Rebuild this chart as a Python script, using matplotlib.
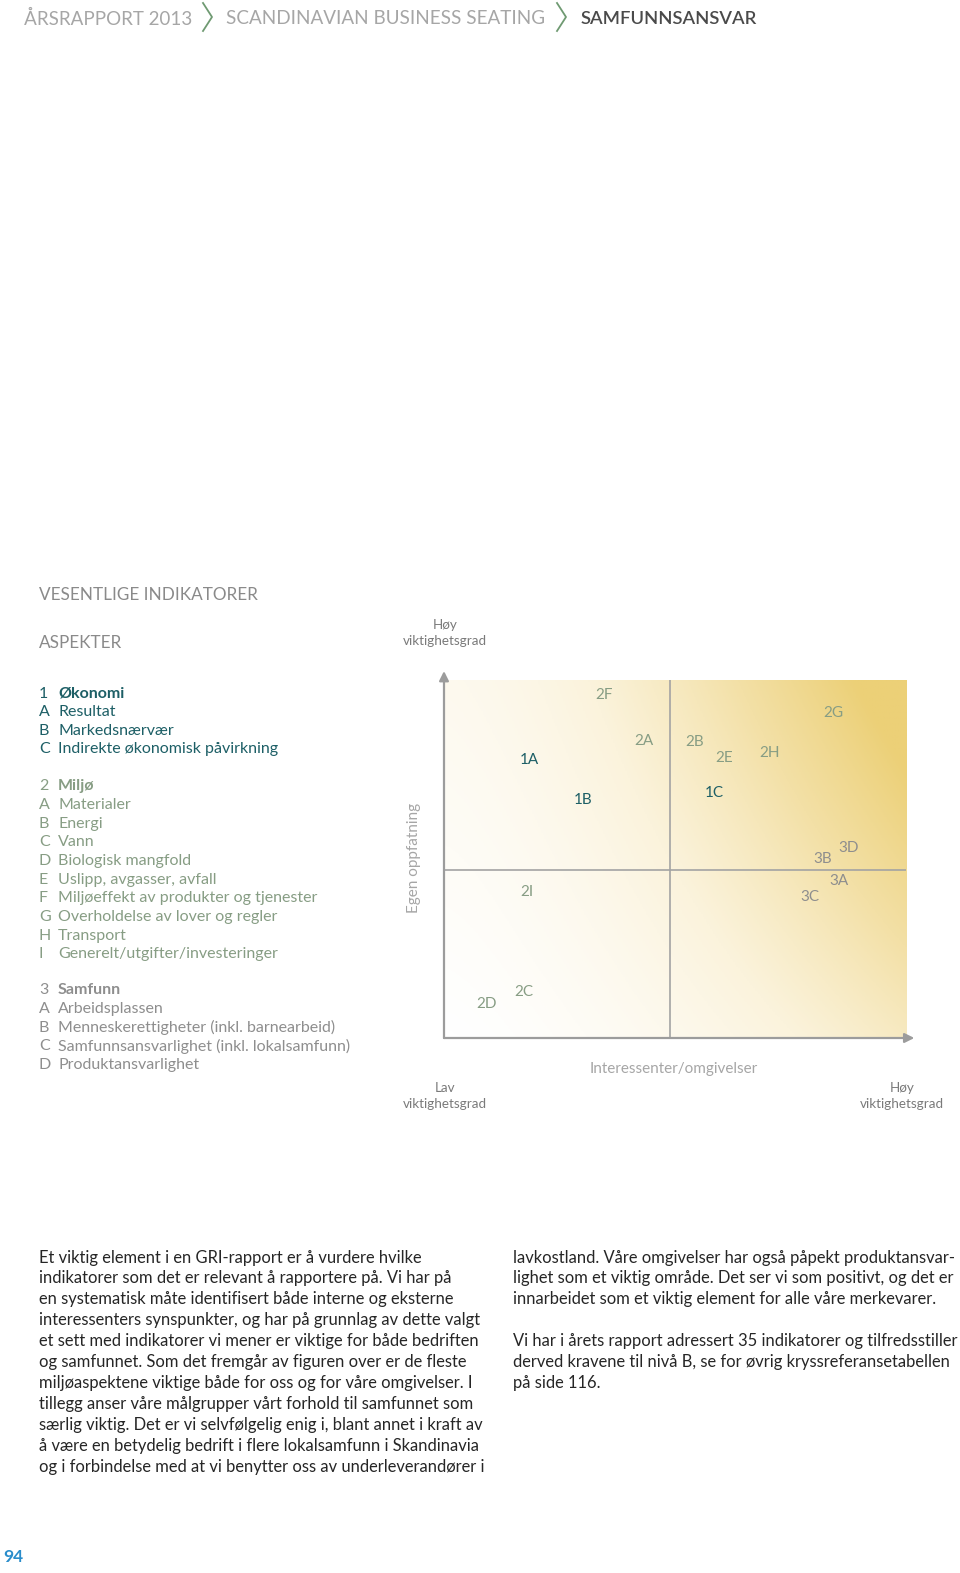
import matplotlib.pyplot as plt
from matplotlib.colors import LinearSegmentedColormap
import numpy as np

W, H = 960, 1573
plt.rcParams['font.family'] = ['Lato', 'DejaVu Sans']

# indikatorer i matrisen (x = interessenter/omgivelser, y = egen oppfatning, skala 0-10)
labels = ['1A', '1B', '1C', '2A', '2B', '2C', '2D', '2E', '2F', '2G', '2H', '2I', '3A', '3B', '3C', '3D']
x_int = [1.85, 3.02, 5.85, 4.33, 5.43, 1.72, 0.93, 6.07, 3.46, 8.43, 7.04, 1.80, 8.54, 8.20, 7.91, 8.76]
y_egen = [7.82, 6.69, 6.89, 8.35, 8.32, 1.32, 0.98, 7.87, 9.61, 9.13, 8.01, 4.12, 4.43, 5.04, 3.98, 5.35]

# aspekter
grp_nr = ['1', '2', '3']
grp_navn = ['Økonomi', 'Miljø', 'Samfunn']
okonomi = ['Resultat', 'Markedsnærvær', 'Indirekte økonomisk påvirkning']
miljo = ['Materialer', 'Energi', 'Vann', 'Biologisk mangfold', 'Uslipp, avgasser, avfall',
         'Miljøeffekt av produkter og tjenester', 'Overholdelse av lover og regler',
         'Transport', 'Generelt/utgifter/investeringer']
samfunn = ['Arbeidsplassen', 'Menneskerettigheter (inkl. barnearbeid)',
           'Samfunnsansvarlighet (inkl. lokalsamfunn)', 'Produktansvarlighet']
farger = ['#1d5f66', '#879d84', '#8e8e8e']

tekst_v = ['Et viktig element i en GRI-rapport er å vurdere hvilke',
           'indikatorer som det er relevant å rapportere på. Vi har på',
           'en systematisk måte identifisert både interne og eksterne',
           'interessenters synspunkter, og har på grunnlag av dette valgt',
           'et sett med indikatorer vi mener er viktige for både bedriften',
           'og samfunnet. Som det fremgår av figuren over er de fleste',
           'miljøaspektene viktige både for oss og for våre omgivelser. I',
           'tillegg anser våre målgrupper vårt forhold til samfunnet som',
           'særlig viktig. Det er vi selvfølgelig enig i, blant annet i kraft av',
           'å være en betydelig bedrift i flere lokalsamfunn i Skandinavia',
           'og i forbindelse med at vi benytter oss av underleverandører i']
tekst_h = ['lavkostland. Våre omgivelser har også påpekt produktansvar-',
           'lighet som et viktig område. Det ser vi som positivt, og det er',
           'innarbeidet som et viktig element for alle våre merkevarer.',
           '',
           'Vi har i årets rapport adressert 35 indikatorer og tilfredsstiller',
           'derved kravene til nivå B, se for øvrig kryssreferansetabellen',
           'på side 116.']


def fx(x):
    return x / W


def fy(y):
    return 1 - y / H


fig = plt.figure(figsize=(W / 100, H / 100), dpi=100)

# topptekst
fig.text(fx(24), fy(17), 'ÅRSRAPPORT 2013', fontsize=13.5, color='#a6a6a6', va='center_baseline')
fig.text(fx(226), fy(17), 'SCANDINAVIAN BUSINESS SEATING', fontsize=13.6, color='#a6a6a6',
         va='center_baseline')
fig.text(fx(581), fy(17), 'SAMFUNNSANSVAR', fontsize=13.2, color='#4a4a4a', va='center_baseline',
         fontweight='semibold')
for cx in [203, 557]:
    fig.add_artist(plt.Line2D([fx(cx), fx(cx + 9), fx(cx)], [fy(3), fy(17), fy(31)],
                              color='#6f9a72', lw=1.3))

fig.text(fx(39), fy(593), 'VESENTLIGE INDIKATORER', fontsize=12.3, color='#8a8a8a', va='center_baseline')
fig.text(fx(39), fy(642), 'ASPEKTER', fontsize=12.3, color='#8a8a8a', va='center_baseline')

# liste over aspekter
step = 18.65
starts = [692, 785, 989]
for nr, navn, items, start, c in zip(grp_nr, grp_navn, [okonomi, miljo, samfunn], starts, farger):
    fig.text(fx(39), fy(start), nr, fontsize=11.5, color=c, va='center_baseline')
    fig.text(fx(58), fy(start), navn, fontsize=11.5, color=c, va='center_baseline', fontweight='bold')
    for i, item in enumerate(items):
        y = start + step * (i + 1)
        fig.text(fx(39), fy(y), 'ABCDEFGHI'[i], fontsize=11.5, color=c, va='center_baseline')
        fig.text(fx(58), fy(y), item, fontsize=11.5, color=c, va='center_baseline')

# matrisen
ax = fig.add_axes([fx(444), fy(1038), (906 - 444) / W, (1038 - 680) / H])
u, v = np.meshgrid(np.linspace(0, 1, 300), np.linspace(0, 1, 300))
t = np.clip(u ** 1.5 * (0.5 + 0.5 * v) + 0.16 * v, 0, 1)
cmap = LinearSegmentedColormap.from_list('gull', ['#ffffff', '#fbf3dc', '#f3e0a6', '#ecd077'])
ax.imshow(t, cmap=cmap, origin='lower', extent=[0, 10, 0, 10], aspect='auto', vmin=0, vmax=1)
ax.set_xlim(0, 10)
ax.set_ylim(0, 10)
ax.axis('off')

ax.plot([4.89, 4.89], [0, 10], color='#a3a3a3', lw=1.2)
ax.plot([0, 10], [4.69, 4.69], color='#a3a3a3', lw=1.2)
ax.annotate('', xy=(0, 10.25), xytext=(0, 0), annotation_clip=False,
            arrowprops=dict(arrowstyle='-|>', color='#9c9c9c', lw=1.6, mutation_scale=14,
                            shrinkA=0, shrinkB=0))
ax.annotate('', xy=(10.18, 0), xytext=(0, 0), annotation_clip=False,
            arrowprops=dict(arrowstyle='-|>', color='#9c9c9c', lw=1.6, mutation_scale=14,
                            shrinkA=0, shrinkB=0))

for lab, x, y in zip(labels, x_int, y_egen):
    c = farger[int(lab[0]) - 1]
    ax.text(x, y, lab, ha='center', va='center_baseline', fontsize=11, color=c)

# aksetekster
fig.text(fx(445), fy(633), 'Høy\nviktighetsgrad', fontsize=9.7, color='#7a7a7a', ha='center', va='center',
         linespacing=1.45)
fig.text(fx(445), fy(1096), 'Lav\nviktighetsgrad', fontsize=9.7, color='#7a7a7a', ha='center', va='center',
         linespacing=1.45)
fig.text(fx(902), fy(1096), 'Høy\nviktighetsgrad', fontsize=9.7, color='#7a7a7a', ha='center', va='center',
         linespacing=1.45)
fig.text(fx(674), fy(1067), 'Interessenter/omgivelser', fontsize=11, color='#a6a6a6', ha='center',
         va='center_baseline')
fig.text(fx(414), fy(858), 'Egen oppfatning', fontsize=11, color='#a6a6a6', ha='center', va='center',
         rotation=90)

# brødtekst
for i, line in enumerate(tekst_v):
    fig.text(fx(39), fy(1256 + 20.95 * i), line, fontsize=11.9, color='#262626', va='center_baseline')
for i, line in enumerate(tekst_h):
    fig.text(fx(513), fy(1256 + 20.95 * i), line, fontsize=11.9, color='#262626', va='center_baseline')

fig.text(fx(3), fy(1556), '94', fontsize=12.5, color='#2a8dcb', fontweight='bold', va='center_baseline')

fig.savefig('out.png', dpi=100)
